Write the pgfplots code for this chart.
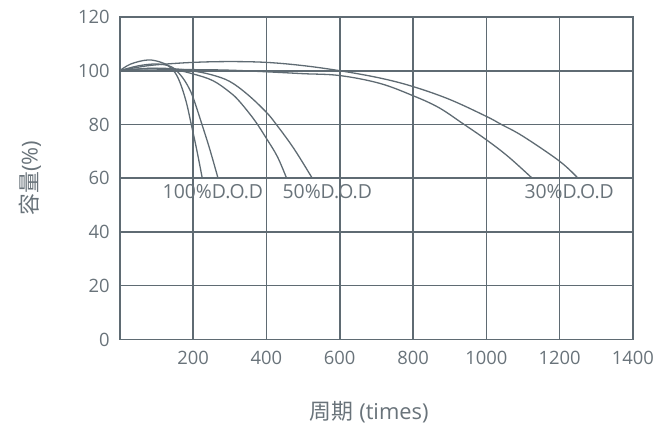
\documentclass[border=0pt]{standalone}
\usepackage{fontspec}
\setmainfont{Open Sans}
\newfontfamily\cjk{Noto Sans CJK SC}
\usepackage{pgfplots}
\pgfplotsset{compat=1.18}
\definecolor{gc}{RGB}{95,107,115}
\definecolor{tc}{RGB}{105,115,122}
\pgfplotsset{cv/.style={color=gc, line width=1.3bp, smooth, tension=0.6, solid, mark=none}}
\begin{document}
\begin{tikzpicture}
\begin{axis}[
  scale only axis, width=514bp, height=323bp,
  xmin=0, xmax=1400, ymin=0, ymax=120,
  xtick={200,400,...,1400}, ytick={0,20,...,120},
  grid=major, major grid style={gc, line width=1.6bp},
  axis line style={gc, line width=1.6bp},
  major tick length=0pt,
  tick label style={font=\fontsize{18.5}{21}\selectfont, text=tc, inner sep=0pt},
  /pgf/number format/assume math mode=true,
  /pgf/number format/1000 sep={},
  xticklabel style={yshift=-12bp},
  yticklabel style={xshift=-10bp},
  xlabel={{\cjk 周期} (times)},
  ylabel={{\cjk 容量}(\%)},
  xlabel style={at={(axis description cs:0.486,-0.226)}, anchor=center, font=\fontsize{22}{25}\selectfont, text=tc},
  ylabel style={at={(axis description cs:-0.175,0.5)}, anchor=center, font=\fontsize{22}{25}\selectfont, text=tc},
]
% 100% D.O.D
\addplot[cv] coordinates {(0,100) (30,102.5) (77,104) (115,103) (140,101) (160,97) (180,89) (195,80) (210,70.5) (225,60)};
\addplot[cv] coordinates {(0,100) (50,101.8) (100,102.5) (140,101.5) (165,98.5) (185,94.5) (200,90) (223,80.5) (245,71) (268,60)};
% 50% D.O.D
\addplot[cv] coordinates {(0,100) (80,100.8) (150,100.3) (200,98.8) (254,96.3) (300,92) (327,88.5) (368,81.5) (400,74.8) (430,68) (455,60)};
\addplot[cv] coordinates {(0,100) (80,100.9) (150,100.7) (200,99.9) (250,98.5) (300,96) (350,91) (400,84.5) (427,80) (475,71) (525,60)};
% 30% D.O.D
\addplot[cv] coordinates {(0,100) (50,101.3) (100,102.2) (200,103.1) (300,103.4) (400,103.1) (500,101.9) (600,100) (709,97.3) (800,94.1) (900,89.3) (1000,83) (1041,80) (1100,75.6) (1200,66.3) (1250,60)};
\addplot[cv] coordinates {(0,100) (100,100.3) (200,100.4) (300,100.2) (400,99.6) (500,98.9) (600,98.2) (709,95.3) (800,90.7) (870,86.3) (934,80.5) (1000,74.3) (1060,68) (1125,60)};
\node[text=tc, font=\fontsize{19.5}{22}\selectfont, inner sep=0pt] at (axis cs:254,55) {100\%D.O.D};
\node[text=tc, font=\fontsize{19.5}{22}\selectfont, inner sep=0pt] at (axis cs:566,55) {50\%D.O.D};
\node[text=tc, font=\fontsize{19.5}{22}\selectfont, inner sep=0pt] at (axis cs:1226,55) {30\%D.O.D};
\coordinate (O) at (rel axis cs:0,0);
\coordinate (T) at (rel axis cs:1,1);
\end{axis}
\path (O) ++(-120bp,-92bp) coordinate (BL);
\path (T) ++(20bp,17bp) coordinate (TR);
\path (BL) rectangle (TR);
\end{tikzpicture}
\end{document}
